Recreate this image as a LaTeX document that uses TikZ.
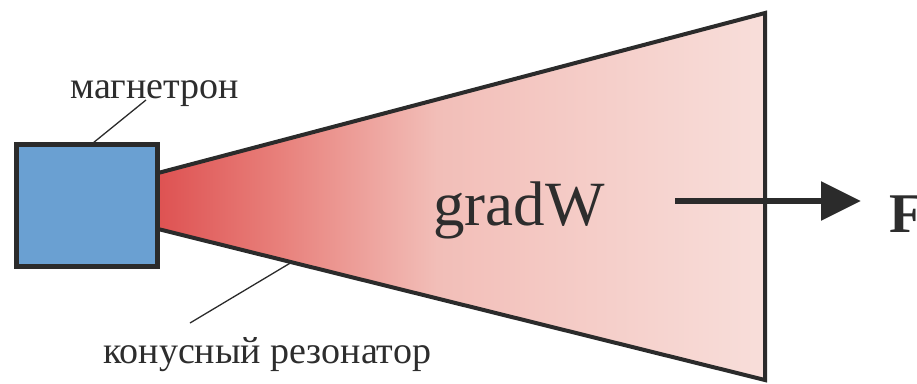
\documentclass[tikz,border=0pt]{standalone}
\usepackage{fontspec}
\setmainfont{Liberation Serif}
\usetikzlibrary{arrows.meta}
\definecolor{edge}{RGB}{43,43,43}
\definecolor{txt}{RGB}{45,45,45}
\definecolor{boxblue}{RGB}{106,160,210}
\definecolor{cred}{RGB}{222,82,82}
\definecolor{cmid}{RGB}{232,128,123}
\definecolor{clite}{RGB}{242,190,184}
\definecolor{cpink}{RGB}{248,222,218}
\pgfdeclarehorizontalshading{conegrad}{100bp}{color(0bp)=(cred); color(25bp)=(cred); color(35bp)=(cmid); color(48bp)=(clite); color(75bp)=(cpink); color(100bp)=(cpink)}
\tikzset{
  magbox/.style={draw=edge, line width=5pt, fill=boxblue, minimum width=141pt, minimum height=122pt, inner sep=0pt},
  coneline/.style={draw=edge, line width=4pt, line join=miter},
  leader/.style={draw=edge, line width=1.3pt},
  lbl/.style={text=txt, inner sep=0pt, font=\fontsize{38}{44}\selectfont},
  force/.style={draw=edge, line width=6pt, -{Triangle[length=40pt,width=38pt]}}
}
\begin{document}
\begin{tikzpicture}[x=1pt,y=-1pt]
\useasboundingbox (0,0) rectangle (917,383);
\coordinate (tl) at (158,173);
\coordinate (bl) at (158,229);
\coordinate (tr) at (765,13);
\coordinate (br) at (765,380);
\shade[shading=conegrad] (tl) -- (tr) -- (br) -- (bl) -- cycle;
\draw[coneline] (tl) -- (tr) -- (br) -- (bl);
\node[magbox] (mag) at (87,205.5) {};
\node[lbl, anchor=base west] (maglbl) at (70,98) {магнетрон};
\node[lbl, anchor=base west] (conelbl) at (103,363) {конусный резонатор};
\coordinate (m1) at (146,100);
\coordinate (m2) at (93,143);
\draw[leader] (m1) -- (m2);
\coordinate (c1) at (190,323);
\coordinate (c2) at (292,262);
\draw[leader] (c1) -- (c2);
\node[text=txt, inner sep=0pt, anchor=base west, font=\fontsize{63}{70}\selectfont] (grad) at (433,225) {gradW};
\coordinate (a1) at (675,201);
\coordinate (a2) at (861,201);
\draw[force] (a1) -- (a2);
\node[text=txt, inner sep=0pt, anchor=base west, font=\fontsize{56}{60}\selectfont\bfseries] (F) at (889,232) {F};
\end{tikzpicture}
\end{document}
